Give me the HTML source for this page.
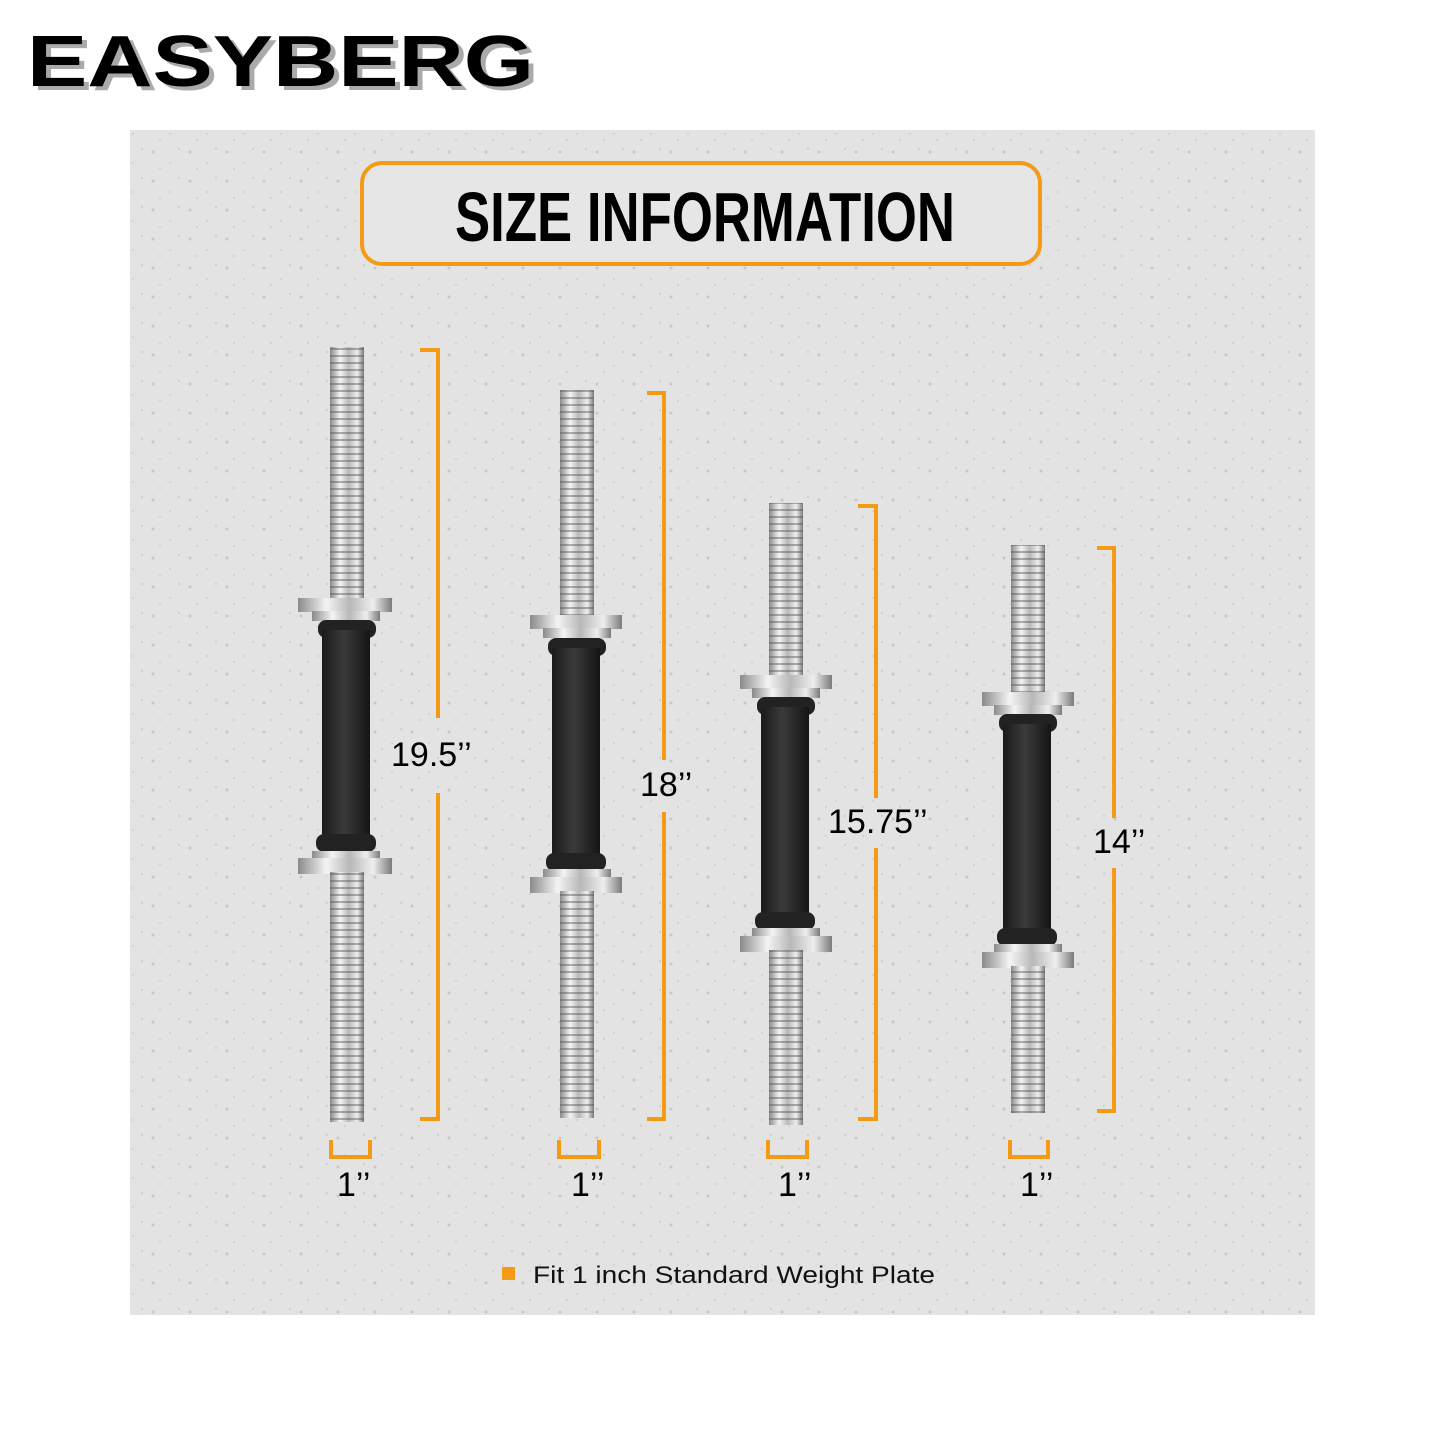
<!DOCTYPE html>
<html><head><meta charset="utf-8"><style>
html,body{margin:0;padding:0;background:#fff;}
svg{display:block}
</style></head><body>
<svg width="1445" height="1445" viewBox="0 0 1445 1445" xmlns="http://www.w3.org/2000/svg">
<defs>
<linearGradient id="chrome" x1="0" x2="1" y1="0" y2="0">
<stop offset="0" stop-color="#8a8a8a"/><stop offset="0.3" stop-color="#f4f4f4"/><stop offset="0.55" stop-color="#b8b8b8"/><stop offset="0.8" stop-color="#eeeeee"/><stop offset="1" stop-color="#7a7a7a"/>
</linearGradient>
<pattern id="thread" width="8" height="7" patternUnits="userSpaceOnUse">
<rect width="8" height="7" fill="none"/><rect y="5" width="8" height="2" fill="#555" opacity="0.45"/>
</pattern>
<pattern id="speck" width="37" height="29" patternUnits="userSpaceOnUse">
<circle cx="5" cy="7" r="1.5" fill="#c8c8c8"/><circle cx="22" cy="18" r="1" fill="#cfcfcf"/><circle cx="31" cy="4" r="1.2" fill="#d0d0d0"/><circle cx="12" cy="24" r="0.9" fill="#c5c5c5"/>
</pattern>
<linearGradient id="grip" x1="0" x2="1"><stop offset="0" stop-color="#1a1a1a"/><stop offset="0.45" stop-color="#3a3a3a"/><stop offset="1" stop-color="#151515"/></linearGradient>
</defs>
<rect width="1445" height="1445" fill="#fff"/>
<text x="30" y="88" font-family="Liberation Sans, sans-serif" font-weight="bold" font-size="72" textLength="507" lengthAdjust="spacingAndGlyphs" fill="#aaa" transform="translate(2,2)">EASYBERG</text>
<text x="27" y="86" font-family="Liberation Sans, sans-serif" font-weight="bold" font-size="72" textLength="507" lengthAdjust="spacingAndGlyphs" fill="#000">EASYBERG</text>
<rect x="130" y="130" width="1185" height="1185" fill="#e3e3e3"/>
<rect x="130" y="130" width="1185" height="1185" fill="url(#speck)"/>
<rect x="362" y="163" width="678" height="101" rx="20" fill="#e6e6e6" stroke="#f59a14" stroke-width="4"/>
<text x="705" y="241" text-anchor="middle" font-family="Liberation Sans, sans-serif" font-weight="bold" font-size="70" textLength="500" lengthAdjust="spacingAndGlyphs" fill="#000">SIZE INFORMATION</text>

<g id="bars">
<rect x="330" y="347" width="34" height="255" fill="url(#chrome)"/><rect x="330" y="347" width="34" height="255" fill="url(#thread)"/>
<rect x="298" y="598" width="94" height="14" fill="url(#chrome)"/><rect x="312" y="611" width="68" height="10" fill="url(#chrome)"/>
<rect x="318" y="620" width="58" height="18" rx="8" fill="#222"/><rect x="322" y="630" width="48" height="210" fill="url(#grip)"/><rect x="316" y="834" width="60" height="18" rx="8" fill="#222"/>
<rect x="312" y="851" width="68" height="10" fill="url(#chrome)"/><rect x="298" y="858" width="94" height="16" fill="url(#chrome)"/>
<rect x="330" y="872" width="34" height="250" fill="url(#chrome)"/><rect x="330" y="872" width="34" height="250" fill="url(#thread)"/>
<rect x="560" y="390" width="34" height="228" fill="url(#chrome)"/><rect x="560" y="390" width="34" height="228" fill="url(#thread)"/>
<rect x="530" y="615" width="92" height="14" fill="url(#chrome)"/><rect x="543" y="628" width="68" height="10" fill="url(#chrome)"/>
<rect x="548" y="638" width="58" height="18" rx="8" fill="#222"/><rect x="552" y="648" width="48" height="212" fill="url(#grip)"/><rect x="546" y="853" width="60" height="18" rx="8" fill="#222"/>
<rect x="543" y="869" width="68" height="10" fill="url(#chrome)"/><rect x="530" y="877" width="92" height="16" fill="url(#chrome)"/>
<rect x="560" y="891" width="34" height="227" fill="url(#chrome)"/><rect x="560" y="891" width="34" height="227" fill="url(#thread)"/>
<rect x="769" y="503" width="34" height="175" fill="url(#chrome)"/><rect x="769" y="503" width="34" height="175" fill="url(#thread)"/>
<rect x="740" y="675" width="92" height="14" fill="url(#chrome)"/><rect x="752" y="688" width="68" height="10" fill="url(#chrome)"/>
<rect x="757" y="697" width="58" height="18" rx="8" fill="#222"/><rect x="761" y="707" width="48" height="212" fill="url(#grip)"/><rect x="755" y="912" width="60" height="18" rx="8" fill="#222"/>
<rect x="752" y="928" width="68" height="10" fill="url(#chrome)"/><rect x="740" y="936" width="92" height="16" fill="url(#chrome)"/>
<rect x="769" y="950" width="34" height="175" fill="url(#chrome)"/><rect x="769" y="950" width="34" height="175" fill="url(#thread)"/>
<rect x="1011" y="545" width="34" height="148" fill="url(#chrome)"/><rect x="1011" y="545" width="34" height="148" fill="url(#thread)"/>
<rect x="982" y="692" width="92" height="14" fill="url(#chrome)"/><rect x="994" y="705" width="68" height="10" fill="url(#chrome)"/>
<rect x="999" y="714" width="58" height="18" rx="8" fill="#222"/><rect x="1003" y="724" width="48" height="212" fill="url(#grip)"/><rect x="997" y="928" width="60" height="18" rx="8" fill="#222"/>
<rect x="994" y="944" width="68" height="10" fill="url(#chrome)"/><rect x="982" y="952" width="92" height="16" fill="url(#chrome)"/>
<rect x="1011" y="966" width="34" height="147" fill="url(#chrome)"/><rect x="1011" y="966" width="34" height="147" fill="url(#thread)"/>
</g>

<g fill="none" stroke="#f59a14" stroke-width="4">
<polyline points="420,350 438,350 438,718"/><polyline points="438,793 438,1119 420,1119"/>
<polyline points="647,393 664,393 664,760"/><polyline points="664,812 664,1119 647,1119"/>
<polyline points="858,506 876,506 876,798"/><polyline points="876,848 876,1119 858,1119"/>
<polyline points="1097,548 1114,548 1114,818"/><polyline points="1114,868 1114,1111 1097,1111"/>
<polyline points="331,1140 331,1157 370,1157 370,1140"/>
<polyline points="559,1140 559,1157 599,1157 599,1140"/>
<polyline points="768,1140 768,1157 807,1157 807,1140"/>
<polyline points="1010,1140 1010,1157 1048,1157 1048,1140"/>
</g>
<g font-family="Liberation Sans, sans-serif" font-size="34" fill="#000">
<text x="391" y="766">19.5’’</text>
<text x="640" y="796">18’’</text>
<text x="828" y="833">15.75’’</text>
<text x="1093" y="853">14’’</text>
<text x="337" y="1196">1’’</text>
<text x="571" y="1196">1’’</text>
<text x="778" y="1196">1’’</text>
<text x="1020" y="1196">1’’</text>
</g>
<rect x="502" y="1267" width="13" height="13" fill="#f59a14"/>
<text x="533" y="1283" font-family="Liberation Sans, sans-serif" font-size="24" textLength="402" lengthAdjust="spacingAndGlyphs" fill="#111">Fit 1 inch Standard Weight Plate</text>
</svg>
</body></html>
